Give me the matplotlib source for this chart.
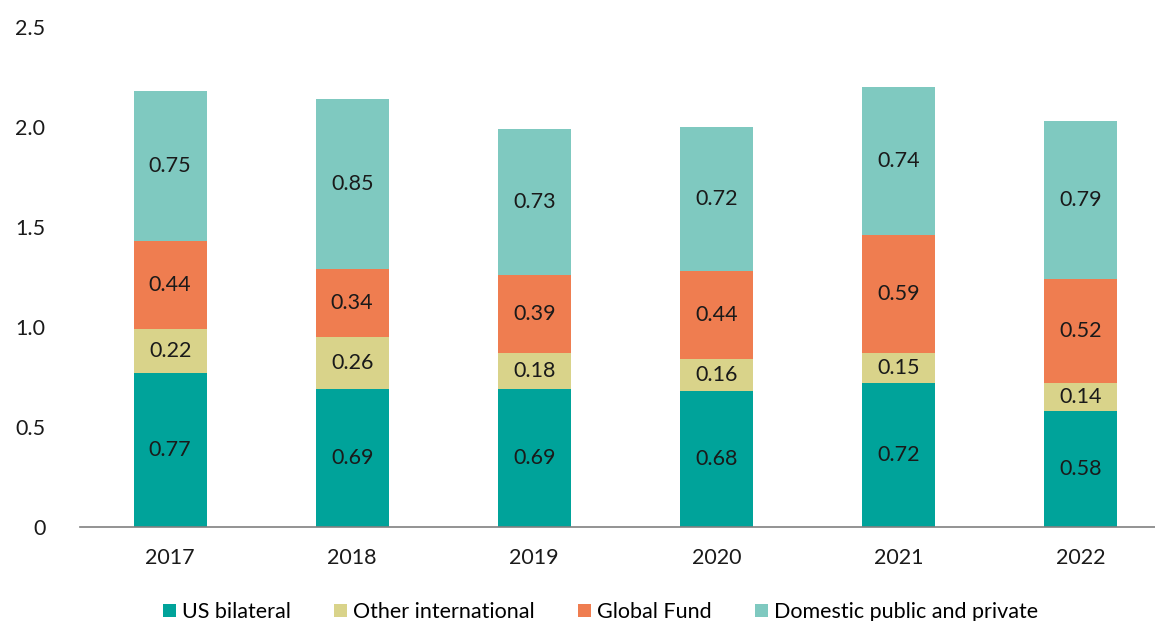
import numpy as np
import matplotlib.pyplot as plt

plt.rcParams['font.family'] = ['Lato', 'DejaVu Sans']

years = ['2017', '2018', '2019', '2020', '2021', '2022']
us_bilateral = [0.77, 0.69, 0.69, 0.68, 0.72, 0.58]
other_intl = [0.22, 0.26, 0.18, 0.16, 0.15, 0.14]
global_fund = [0.44, 0.34, 0.39, 0.44, 0.59, 0.52]
domestic = [0.75, 0.85, 0.73, 0.72, 0.74, 0.79]

series = [
    ('US bilateral', us_bilateral, '#00a39a'),
    ('Other international', other_intl, '#d9d38a'),
    ('Global Fund', global_fund, '#ef7d50'),
    ('Domestic public and private', domestic, '#7fc9c0'),
]

fs = 15.5
fig = plt.figure(figsize=(11.55, 6.21), dpi=100)
ax = fig.add_axes([80 / 1155, 1 - 527 / 621, 1 - 80 / 1155, (527 - 27) / 621])

x = np.arange(len(years))
bottom = np.zeros(len(years))
for name, vals, color in series:
    vals = np.array(vals)
    ax.bar(x, vals, 0.4, bottom=bottom, color=color, label=name, zorder=2)
    for xi, b, v in zip(x, bottom, vals):
        ax.text(xi, b + v / 2, f'{v:.2f}', ha='center', va='center',
                fontsize=fs, color='#1a1a1a', zorder=3)
    bottom += vals

ax.set_xlim(-0.495, 5.41)
ax.set_ylim(0, 2.5)
ax.set_yticks([0, 0.5, 1.0, 1.5, 2.0, 2.5])
ax.set_yticklabels(['0', '0.5', '1.0', '1.5', '2.0', '2.5'])
ax.set_xticks(x)
ax.set_xticklabels(years)
ax.tick_params(axis='y', length=0, pad=25, labelsize=fs, labelcolor='#1a1a1a')
ax.tick_params(axis='x', length=0, pad=15, labelsize=fs, labelcolor='#1a1a1a')
for s in ['top', 'right', 'left']:
    ax.spines[s].set_visible(False)
ax.spines['bottom'].set_color('#808080')
ax.spines['bottom'].set_linewidth(1.2)

fig.legend(loc='lower center', bbox_to_anchor=(0.52, -0.033), ncol=4, frameon=False,
           fontsize=fs, handlelength=0.6, handleheight=0.6, handletextpad=0.3,
           columnspacing=2.0)

fig.savefig('out.png', dpi=100)
